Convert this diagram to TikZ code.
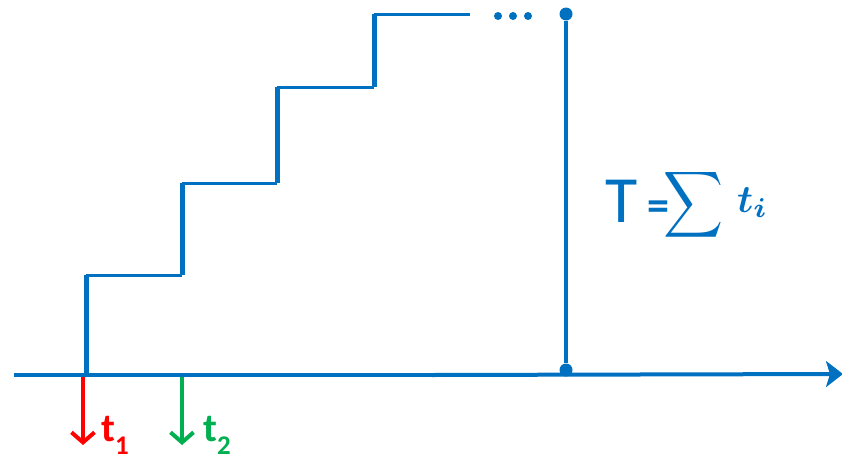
\documentclass[tikz,border=0pt]{standalone}
\usepackage{amsmath}
\usepackage{graphicx}
\usepackage{fontspec}
\newfontfamily\calib{Carlito}
\usetikzlibrary{arrows.meta}
\definecolor{myblue}{RGB}{0,112,192}
\definecolor{myred}{RGB}{255,0,0}
\definecolor{mygreen}{RGB}{0,176,80}
\begin{document}
\begin{tikzpicture}[x=1pt,y=-1pt,
  axisline/.style={myblue,line width=4pt},
  riser/.style={myblue,line width=5pt},
  tread/.style={myblue,line width=3pt},
  dotmark/.style={circle,fill=myblue,inner sep=0pt,minimum size=13pt},
  smalldot/.style={circle,fill=myblue,inner sep=0pt,minimum size=8pt},
  tarrow/.style={line width=4pt,-{Straight Barb[length=10pt,width=23pt]}},
  lbl/.style={font=\calib\bfseries\fontsize{40}{40}\selectfont,inner sep=0pt,anchor=base west}]
\useasboundingbox (0,0) rectangle (842,463);
% axis
\coordinate (a0) at (14,375);
\coordinate (am) at (432,375);
\coordinate (a1) at (843,374);
\draw[axisline] (a0) -- (am);
\draw[axisline,-{Stealth[length=17pt,width=26pt,inset=4pt]}] (am) -- (a1);
% staircase
\coordinate (s0) at (86,377);
\coordinate (s1) at (86,275);
\coordinate (s2) at (182,275);
\coordinate (s3) at (182,183);
\coordinate (s4) at (277,183);
\coordinate (s5) at (277,87);
\coordinate (s6) at (374,87);
\coordinate (s7) at (374,14);
\coordinate (s8) at (470,14);
\draw[riser] (s0) -- (s1);
\draw[tread] (s1) -- (s2);
\draw[riser] (s2) -- (s3);
\draw[tread] (s3) -- (s4);
\draw[riser] (s4) -- (s5);
\draw[tread] (s5) -- (s6);
\draw[riser] (s6) -- (s7);
\draw[tread] (s7) -- (s8);
% dots
\node[smalldot] (d1) at (498,16) {};
\node[smalldot] (d2) at (513,16) {};
\node[smalldot] (d3) at (528,16) {};
% total line
\node[dotmark] (top) at (566,14) {};
\node[dotmark] (bot) at (566,370) {};
\draw[myblue,line width=4pt] (top) -- (bot);
% arrows
\coordinate (r0) at (83,377);
\coordinate (r1) at (83,445);
\coordinate (g0) at (182,377);
\coordinate (g1) at (182,445);
\draw[tarrow,myred] (r0) -- (r1);
\draw[tarrow,mygreen] (g0) -- (g1);
\node[lbl,myred] (t1) at (101,441) {t\raisebox{-13pt}{\fontsize{27}{27}\selectfont 1}};
\node[lbl,mygreen] (t2) at (203,441) {t\raisebox{-13pt}{\fontsize{27}{27}\selectfont 2}};
% formula
\node[myblue,font=\calib\fontsize{66}{66}\selectfont,inner sep=0pt,anchor=base west] (T) at (605,222) {T};
\node[myblue,font=\calib\bfseries\fontsize{44}{44}\selectfont,inner sep=0pt,anchor=base west] (eq) at (647,220) {=};
\node[myblue,inner sep=0pt] (sum) at (693,205) {\resizebox*{60pt}{74pt}{$\displaystyle\sum$}};
\node[myblue,inner sep=0pt,anchor=base west] (ti) at (737,212) {\scalebox{3.9}{$\boldsymbol{t_i}$}};
\end{tikzpicture}
\end{document}
